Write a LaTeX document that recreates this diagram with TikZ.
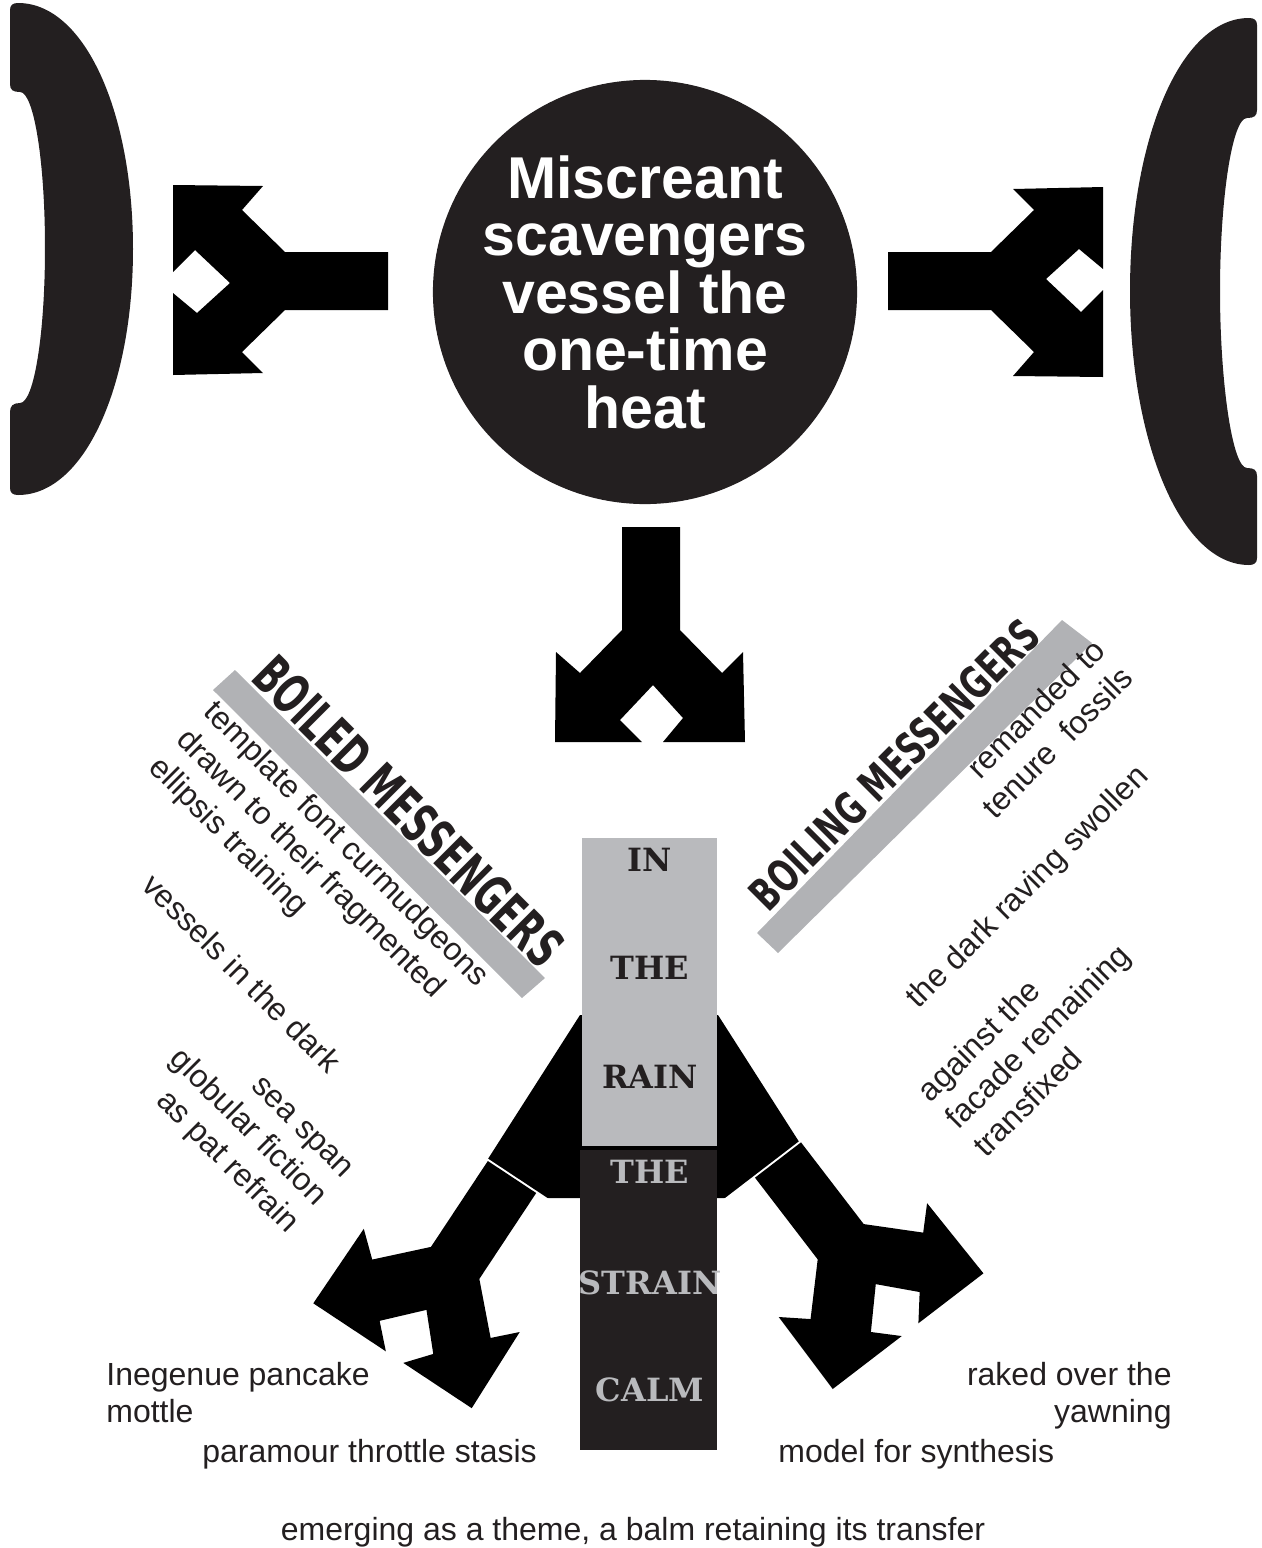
\documentclass[tikz,border=0pt]{standalone}
\usepackage{fontspec}
\usepackage{graphicx}
\setmainfont{Liberation Sans}
\newfontfamily\slabfont{DejaVu Serif}
\newfontfamily\blockfont{DejaVu Sans}
\definecolor{ink}{HTML}{231F20}
\definecolor{mist}{HTML}{B9BABD}
\definecolor{bargray}{HTML}{B1B2B5}

\tikzset{
  prose/.style={font=\fontsize{16}{18.5}\selectfont, inner sep=0, text=ink},
  tilted/.style={font=\fontsize{16}{19.5}\selectfont, inner sep=0, text=ink},
  colword/.style={font=\slabfont\bfseries\fontsize{16}{16}\selectfont, inner sep=0},
  pics/splitarrow/.style={code={
    \fill[white] (-98,-2) rectangle (96,218);
    \fill[black] (-29,0) -- (29,0) -- (29,103) -- (71,146) -- (92,125) -- (94,215)
      -- (12,215) -- (32,191) -- (2,158) -- (-31,193) -- (-9,215) -- (-96,215)
      -- (-95,125) -- (-71,146) -- (-29,103) -- cycle;
  }}
}

\begin{document}
\begin{tikzpicture}[x=0.5pt,y=-0.5pt]
  \useasboundingbox (0,0) rectangle (1262,1548);

  % brackets
  \fill[ink] (10,488) -- (10,412) .. controls (10,406) and (13,403) .. (20,403)
    .. controls (34,403) and (45,334) .. (45,248) .. controls (45,162) and (34,92) .. (20,92)
    .. controls (13,92) and (10,90) .. (10,84) -- (10,10) .. controls (10,5) and (13,3) .. (18,3)
    .. controls (85,3) and (133,113) .. (133,249) .. controls (133,385) and (85,495) .. (18,495)
    .. controls (13,495) and (10,493) .. cycle;
  \fill[ink] (1257,558) -- (1257,476) .. controls (1257,470) and (1254,468) .. (1247,468)
    .. controls (1232,468) and (1220,380) .. (1220,291) .. controls (1220,200) and (1232,118) .. (1247,118)
    .. controls (1254,118) and (1257,116) .. (1257,110) -- (1257,25) .. controls (1257,20) and (1254,18) .. (1249,18)
    .. controls (1180,18) and (1130,140) .. (1130,291) .. controls (1130,440) and (1180,565) .. (1249,565)
    .. controls (1254,565) and (1257,563) .. cycle;

  % centre disc
  \node[circle, fill=ink, minimum size=206pt, inner sep=0, text=white, align=center,
    font=\bfseries\fontsize{29.5}{28.75}\selectfont] (core) at (645,292)
    {Miscreant\\scavengers\\vessel the\\one-time\\heat};

  % split arrows round the disc
  \pic[rotate=-90] (westfork) at (388,281) {splitarrow};
  \pic[rotate=90] (eastfork) at (888,281) {splitarrow};
  \pic (southfork) at (651,527) {splitarrow};

  % grey bars and headings
  \fill[bargray] (213,690) -- (235,670) -- (545,978) -- (522,998) -- cycle;
  \fill[bargray] (1062,620) -- (1092,643) -- (778,953) -- (757,933) -- cycle;
  \node[rotate=-45, anchor=south west, inner sep=0, text=ink] (boiled) at (248,680)
    {\resizebox{206pt}{20pt}{\blockfont\bfseries BOILED MESSENGERS}};
  \node[rotate=45, anchor=south west, inner sep=0, text=ink] (boiling) at (769,914)
    {\resizebox{194pt}{16.5pt}{\blockfont\bfseries BOILING MESSENGERS}};

  % slanted text, left
  \node[tilted, rotate=-45, anchor=north west, align=left] (template) at (219,697)
    {template font curmudgeons\\drawn to their fragmented\\ellipsis training};
  \node[tilted, rotate=-45, anchor=base west] (vessels) at (140,887) {vessels in the dark};
  \node[tilted, rotate=-45, anchor=north east, align=right] (seaspan) at (355,1167)
    {sea span\\globular fiction\\as pat refrain};

  % slanted text, right
  \node[tilted, rotate=45, anchor=north east, align=right] (remanded) at (1091,636)
    {remanded to\\tenure~~fossils};
  \node[tilted, rotate=45, anchor=base west] (raving) at (918,1010) {the dark raving swollen};
  \node[tilted, rotate=45, anchor=north west, align=left] (facade) at (914,1087)
    {against the\\facade remaining\\transfixed};

  % lower arrows behind the column
  \fill[black] (580,1015) -- (463,1198) -- (835,1198) -- (718,1015) -- cycle;
  \pic[rotate=-33.5] (leftfork) at (512,1177) {splitarrow};
  \pic[rotate=37.5] (rightfork) at (778,1160) {splitarrow};

  % column
  \fill[mist] (582,838) rectangle (717,1146);
  \fill[ink] (580,1150) rectangle (717,1450);
  \node[colword, text=ink] (in) at (650,860) {IN};
  \node[colword, text=ink] (the) at (650,968) {THE};
  \node[colword, text=ink] (rain) at (650,1077) {RAIN};
  \node[colword, text=mist] (theb) at (650,1172) {THE};
  \node[colword, text=mist] (strain) at (650,1283) {STRAIN};
  \node[colword, text=mist] (calm) at (650,1390) {CALM};

  % bottom lines
  \node[prose, anchor=north west, align=left] (pancake) at (106,1362) {Inegenue pancake\\mottle};
  \node[prose, anchor=base west] (paramour) at (202,1462) {paramour throttle stasis};
  \node[prose, anchor=north east, align=right] (raked) at (1172,1362) {raked over the\\yawning};
  \node[prose, anchor=base west] (model) at (778,1462) {model for synthesis};
  \node[prose, anchor=base] (emerging) at (633,1540) {emerging as a theme, a balm retaining its transfer};
\end{tikzpicture}
\end{document}
